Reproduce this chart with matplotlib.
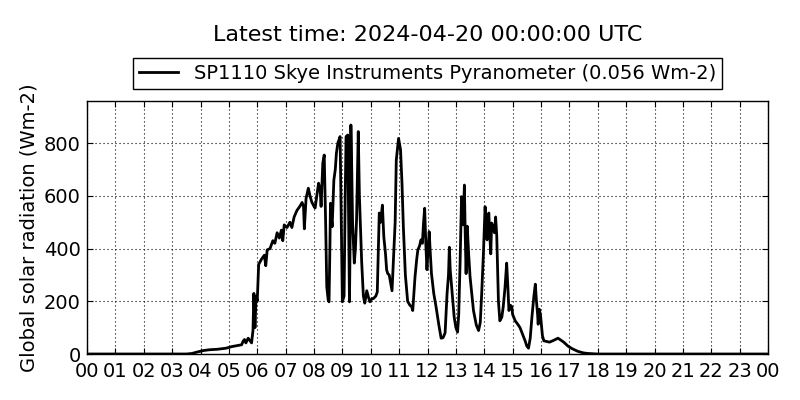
import matplotlib
matplotlib.use("Agg")
import matplotlib.pyplot as plt
import numpy as np

title = "Latest time: 2024-04-20 00:00:00 UTC"
series_label = "SP1110 Skye Instruments Pyranometer (0.056 Wm-2)"
ylabel = "Global solar radiation (Wm-2)"
xtick_labels = ["%02d" % (h % 24) for h in range(25)]
ytick_values = [0, 200, 400, 600, 800]

hours = [0.0, 3.0, 3.5, 3.7, 3.9, 4.1, 4.3, 4.6, 4.9, 5.1, 5.3, 5.45, 5.5, 5.55, 5.6,
         5.68, 5.75, 5.8, 5.85, 5.88, 5.92, 5.96, 6.0, 6.05, 6.15, 6.25, 6.3, 6.35,
         6.45, 6.55, 6.62, 6.7, 6.78, 6.85, 6.9, 6.95, 7.05, 7.15, 7.22, 7.3, 7.4,
         7.5, 7.58, 7.63, 7.66, 7.72, 7.8, 7.86, 7.92, 8.0, 8.04, 8.1, 8.16, 8.22,
         8.25, 8.31, 8.36, 8.41, 8.45, 8.5, 8.53, 8.56, 8.58, 8.61, 8.64, 8.7, 8.75,
         8.79, 8.84, 8.92, 8.96, 9.0, 9.06, 9.1, 9.13, 9.19, 9.22, 9.25, 9.28, 9.3,
         9.33, 9.36, 9.42, 9.46, 9.5, 9.56, 9.6, 9.68, 9.74, 9.79, 9.86, 9.92, 9.97,
         10.04, 10.09, 10.18, 10.23, 10.3, 10.35, 10.41, 10.46, 10.52, 10.56, 10.6,
         10.65, 10.7, 10.75, 10.81, 10.86, 10.9, 10.98, 11.05, 11.1, 11.15, 11.22,
         11.3, 11.38, 11.44, 11.48, 11.56, 11.62, 11.66, 11.72, 11.77, 11.82, 11.86,
         11.9, 11.94, 11.98, 12.02, 12.06, 12.1, 12.14, 12.22, 12.3, 12.4, 12.48,
         12.55, 12.62, 12.69, 12.74, 12.77, 12.8, 12.85, 12.94, 13.0, 13.06, 13.1,
         13.15, 13.2, 13.23, 13.26, 13.3, 13.33, 13.36, 13.4, 13.45, 13.5, 13.62,
         13.72, 13.8, 13.86, 13.91, 13.97, 14.03, 14.07, 14.1, 14.16, 14.2, 14.23,
         14.26, 14.32, 14.36, 14.4, 14.44, 14.47, 14.5, 14.55, 14.62, 14.67, 14.73,
         14.79, 14.83, 14.87, 14.92, 14.97, 15.0, 15.09, 15.2, 15.26, 15.35, 15.44,
         15.5, 15.56, 15.62, 15.68, 15.75, 15.8, 15.84, 15.88, 15.9, 15.94, 15.98,
         16.05, 16.1, 16.3, 16.45, 16.6, 16.8, 16.95, 17.1, 17.3, 17.5, 17.66, 18.0,
         24.0]
radiation = [0, 0, 0, 2, 8, 13, 16, 18, 22, 28, 32, 35, 48, 55, 42,
             60, 50, 42, 90, 230, 100, 220, 200, 340, 360, 375, 335, 395,
             400, 430, 420, 460, 440, 470, 430, 490, 480, 500, 480, 520, 545,
             560, 575, 560, 475, 590, 629, 600, 577, 560, 554, 600, 648, 620,
             560, 724, 755, 500, 255, 205, 198, 400, 572, 520, 483, 660, 700,
             762, 800, 825, 500, 198, 220, 600, 825, 831, 500, 198, 500, 869,
             700, 497, 345, 400, 510, 844, 600, 350, 220, 193, 240, 215, 198,
             210, 210, 220, 235, 535, 500, 565, 445, 380, 319, 305,
             300, 270, 240, 383, 500, 736, 818, 775, 650, 480, 300,
             200, 185, 180, 165, 293, 360, 395, 410, 433, 420, 497,
             553, 420, 320, 400, 464, 380, 305, 230, 180, 110, 60,
             62, 80, 230, 300, 405, 320, 255, 140, 100, 83, 150,
             353, 597, 520, 490, 641, 450, 305, 485, 380, 293, 165,
             110, 89, 120, 230, 380, 559, 470, 433, 535, 440, 380,
             497, 480, 460, 520, 450, 330, 200, 126, 140, 180, 250,
             345, 260, 165, 185, 180, 150, 126, 110, 100, 75, 50,
             30, 22, 60, 140, 220, 265, 200, 150, 113, 170, 150,
             70, 50, 45, 52, 60, 45, 30, 20, 10, 4, 2, 0,
             0]

fig = plt.figure(figsize=(8, 4), dpi=100, facecolor="white")
ax = fig.add_axes([87 / 800, 46 / 400, 681 / 800, 253 / 400])
ax.plot(hours, radiation, color="black", linewidth=2, label=series_label)
ax.set_xlim(0, 24)
ax.set_ylim(0, 960)
ax.set_xticks(range(25))
ax.set_xticklabels(xtick_labels, fontsize=14)
ax.set_yticks(ytick_values)
ax.set_yticklabels([str(v) for v in ytick_values], fontsize=14)
ax.tick_params(direction="in", top=True, right=True, length=4, width=0.8)
ax.tick_params(axis="x", pad=6)
ax.tick_params(axis="y", pad=4.5)
ax.grid(True, color="black", linestyle=(0, (1, 2.6)), linewidth=0.8)
for s in ax.spines.values():
    s.set_linewidth(1)
ax.set_ylabel(ylabel, fontsize=14, labelpad=4)
leg = ax.legend(loc="lower center", bbox_to_anchor=(0.5, 1 + 12 / 253), borderaxespad=0,
                fontsize=14, fancybox=False, framealpha=1, edgecolor="black",
                handlelength=2, borderpad=0.3)
leg.get_frame().set_linewidth(1)
fig.text(427.5 / 800, 1 - 35 / 400, title, ha="center", va="center", fontsize=16)
fig.savefig("out.png", dpi=100, facecolor="white")
